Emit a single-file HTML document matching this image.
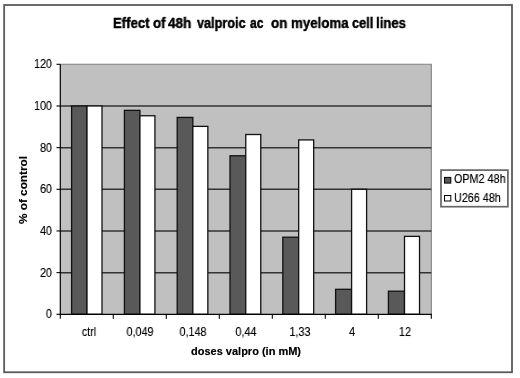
<!DOCTYPE html>
<html><head><meta charset="utf-8"><style>
html,body{margin:0;padding:0;background:#fff;width:520px;height:378px;overflow:hidden}
body{position:relative;font-family:"Liberation Sans", sans-serif;color:#000;-webkit-font-smoothing:antialiased}
.r{position:absolute}
.t{position:absolute;white-space:pre;line-height:1;will-change:transform;text-shadow:0 0 0.7px rgba(0,0,0,0.45)}
#w{position:absolute;left:0;top:0;width:520px;height:378px;}
</style></head><body><div id="w">
<svg class="r" style="left:0;top:0" width="520" height="378" viewBox="0 0 520 378"><rect x="4.15" y="5" width="507.85" height="367.25" fill="#fff" stroke="#5a5a5a" stroke-width="1.8"/><rect x="60.3" y="64.3" width="371.0" height="250.0" fill="#c0c0c0"/><path d="M60.3 64.3H431.3V314.3" fill="none" stroke="#808080" stroke-width="1.1"/><line x1="60.3" y1="105.97" x2="431.3" y2="105.97" stroke="#333" stroke-width="1.5"/><line x1="60.3" y1="147.63" x2="431.3" y2="147.63" stroke="#333" stroke-width="1.5"/><line x1="60.3" y1="189.30" x2="431.3" y2="189.30" stroke="#333" stroke-width="1.5"/><line x1="60.3" y1="230.97" x2="431.3" y2="230.97" stroke="#333" stroke-width="1.5"/><line x1="60.3" y1="272.63" x2="431.3" y2="272.63" stroke="#333" stroke-width="1.5"/><rect x="71.60" y="105.97" width="15.40" height="208.33" fill="#595959" stroke="#111" stroke-width="1.3"/><rect x="87.00" y="105.97" width="15.00" height="208.33" fill="#fff" stroke="#111" stroke-width="1.3"/><rect x="124.40" y="110.34" width="15.52" height="203.96" fill="#595959" stroke="#111" stroke-width="1.3"/><rect x="139.92" y="115.76" width="15.00" height="198.54" fill="#fff" stroke="#111" stroke-width="1.3"/><rect x="177.20" y="117.43" width="15.64" height="196.88" fill="#595959" stroke="#111" stroke-width="1.3"/><rect x="192.84" y="126.38" width="15.00" height="187.92" fill="#fff" stroke="#111" stroke-width="1.3"/><rect x="230.00" y="155.76" width="15.76" height="158.54" fill="#595959" stroke="#111" stroke-width="1.3"/><rect x="245.76" y="134.51" width="15.00" height="179.79" fill="#fff" stroke="#111" stroke-width="1.3"/><rect x="282.80" y="237.22" width="15.88" height="77.08" fill="#595959" stroke="#111" stroke-width="1.3"/><rect x="298.68" y="139.92" width="15.00" height="174.38" fill="#fff" stroke="#111" stroke-width="1.3"/><rect x="335.60" y="289.30" width="16.00" height="25.00" fill="#595959" stroke="#111" stroke-width="1.3"/><rect x="351.60" y="189.30" width="15.00" height="125.00" fill="#fff" stroke="#111" stroke-width="1.3"/><rect x="388.40" y="291.18" width="16.12" height="23.12" fill="#595959" stroke="#111" stroke-width="1.3"/><rect x="404.52" y="236.38" width="15.00" height="77.92" fill="#fff" stroke="#111" stroke-width="1.3"/><line x1="60.3" y1="64.3" x2="60.3" y2="314.8" stroke="#000" stroke-width="1.2"/><line x1="59.8" y1="314.3" x2="431.8" y2="314.3" stroke="#000" stroke-width="1.2"/><line x1="56.5" y1="64.30" x2="60.3" y2="64.30" stroke="#000" stroke-width="1.1"/><line x1="56.5" y1="105.97" x2="60.3" y2="105.97" stroke="#000" stroke-width="1.1"/><line x1="56.5" y1="147.63" x2="60.3" y2="147.63" stroke="#000" stroke-width="1.1"/><line x1="56.5" y1="189.30" x2="60.3" y2="189.30" stroke="#000" stroke-width="1.1"/><line x1="56.5" y1="230.97" x2="60.3" y2="230.97" stroke="#000" stroke-width="1.1"/><line x1="56.5" y1="272.63" x2="60.3" y2="272.63" stroke="#000" stroke-width="1.1"/><line x1="56.5" y1="314.30" x2="60.3" y2="314.30" stroke="#000" stroke-width="1.1"/><line x1="60.30" y1="314.3" x2="60.30" y2="318.8" stroke="#000" stroke-width="1.1"/><line x1="113.30" y1="314.3" x2="113.30" y2="318.8" stroke="#000" stroke-width="1.1"/><line x1="166.30" y1="314.3" x2="166.30" y2="318.8" stroke="#000" stroke-width="1.1"/><line x1="219.30" y1="314.3" x2="219.30" y2="318.8" stroke="#000" stroke-width="1.1"/><line x1="272.30" y1="314.3" x2="272.30" y2="318.8" stroke="#000" stroke-width="1.1"/><line x1="325.30" y1="314.3" x2="325.30" y2="318.8" stroke="#000" stroke-width="1.1"/><line x1="378.30" y1="314.3" x2="378.30" y2="318.8" stroke="#000" stroke-width="1.1"/><line x1="431.30" y1="314.3" x2="431.30" y2="318.8" stroke="#000" stroke-width="1.1"/></svg>
<div class="t" style="left:-148.00px;width:200px;text-align:right;top:57.84px;font-size:12px;font-weight:normal;transform:scaleX(0.9);transform-origin:100% 50%;">120</div>
<div class="t" style="left:-148.00px;width:200px;text-align:right;top:99.84px;font-size:12px;font-weight:normal;transform:scaleX(0.9);transform-origin:100% 50%;">100</div>
<div class="t" style="left:-148.00px;width:200px;text-align:right;top:141.84px;font-size:12px;font-weight:normal;transform:scaleX(0.9);transform-origin:100% 50%;">80</div>
<div class="t" style="left:-148.00px;width:200px;text-align:right;top:182.84px;font-size:12px;font-weight:normal;transform:scaleX(0.9);transform-origin:100% 50%;">60</div>
<div class="t" style="left:-148.00px;width:200px;text-align:right;top:224.84px;font-size:12px;font-weight:normal;transform:scaleX(0.9);transform-origin:100% 50%;">40</div>
<div class="t" style="left:-148.00px;width:200px;text-align:right;top:266.84px;font-size:12px;font-weight:normal;transform:scaleX(0.9);transform-origin:100% 50%;">20</div>
<div class="t" style="left:-148.00px;width:200px;text-align:right;top:307.84px;font-size:12px;font-weight:normal;transform:scaleX(0.9);transform-origin:100% 50%;">0</div>
<div class="t" style="left:-11.25px;width:200px;text-align:center;top:325.84px;font-size:12px;font-weight:normal;transform:scaleX(0.9);transform-origin:50% 50%;">ctrl</div>
<div class="t" style="left:39.50px;width:200px;text-align:center;top:325.84px;font-size:12px;font-weight:normal;transform:scaleX(0.9);transform-origin:50% 50%;">0,049</div>
<div class="t" style="left:92.80px;width:200px;text-align:center;top:325.84px;font-size:12px;font-weight:normal;transform:scaleX(0.9);transform-origin:50% 50%;">0,148</div>
<div class="t" style="left:146.20px;width:200px;text-align:center;top:325.84px;font-size:12px;font-weight:normal;transform:scaleX(0.9);transform-origin:50% 50%;">0,44</div>
<div class="t" style="left:200.10px;width:200px;text-align:center;top:325.84px;font-size:12px;font-weight:normal;transform:scaleX(0.9);transform-origin:50% 50%;">1,33</div>
<div class="t" style="left:252.30px;width:200px;text-align:center;top:325.84px;font-size:12px;font-weight:normal;transform:scaleX(0.9);transform-origin:50% 50%;">4</div>
<div class="t" style="left:305.20px;width:200px;text-align:center;top:325.84px;font-size:12px;font-weight:normal;transform:scaleX(0.9);transform-origin:50% 50%;">12</div>
<div class="t" style="left:112.97px;top:15.65px;font-size:14px;font-weight:bold;transform:scaleX(0.938);transform-origin:0 50%;-webkit-text-stroke:0.3px #000">Effect</div>
<div class="t" style="left:153.08px;top:15.65px;font-size:14px;font-weight:bold;transform:scaleX(0.95);transform-origin:0 50%;-webkit-text-stroke:0.3px #000">of</div>
<div class="t" style="left:167.80px;top:15.65px;font-size:14px;font-weight:bold;transform:scaleX(0.968);transform-origin:0 50%;-webkit-text-stroke:0.3px #000">48h</div>
<div class="t" style="left:196.55px;top:15.65px;font-size:14px;font-weight:bold;transform:scaleX(0.904);transform-origin:0 50%;-webkit-text-stroke:0.3px #000">valproic</div>
<div class="t" style="left:249.94px;top:15.65px;font-size:14px;font-weight:bold;transform:scaleX(0.87);transform-origin:0 50%;-webkit-text-stroke:0.3px #000">ac</div>
<div class="t" style="left:270.92px;top:15.65px;font-size:14px;font-weight:bold;transform:scaleX(0.96);transform-origin:0 50%;-webkit-text-stroke:0.3px #000">on</div>
<div class="t" style="left:290.58px;top:15.65px;font-size:14px;font-weight:bold;transform:scaleX(0.948);transform-origin:0 50%;-webkit-text-stroke:0.3px #000">myeloma</div>
<div class="t" style="left:352.30px;top:15.65px;font-size:14px;font-weight:bold;transform:scaleX(0.912);transform-origin:0 50%;-webkit-text-stroke:0.3px #000">cell</div>
<div class="t" style="left:376.38px;top:15.65px;font-size:14px;font-weight:bold;transform:scaleX(0.942);transform-origin:0 50%;-webkit-text-stroke:0.3px #000">lines</div>
<div class="t" style="left:190.90px;top:346.29px;font-size:11px;font-weight:bold;">doses valpro (in mM)</div>
<div class="t" style="left:-27.0px;top:183.7px;width:100px;height:12px;line-height:12px;text-align:center;font-size:11.8px;font-weight:bold;transform:rotate(-90deg);transform-origin:50% 50%">% of control</div>
<svg class="r" style="left:0;top:0" width="520" height="378" viewBox="0 0 520 378"><rect x="441" y="170.1" width="66.9" height="36.6" fill="#fff" stroke="#666" stroke-width="1.7"/><rect x="444.5" y="177.4" width="6.3" height="5.7" fill="#595959" stroke="#000" stroke-width="1"/><rect x="444.5" y="195.5" width="6.3" height="5.5" fill="#fff" stroke="#000" stroke-width="1"/></svg>
<div class="t" style="left:453.60px;top:172.84px;font-size:12px;font-weight:normal;transform:scaleX(0.9);transform-origin:0 50%;">OPM2 48h</div>
<div class="t" style="left:453.60px;top:191.84px;font-size:12px;font-weight:normal;transform:scaleX(0.9);transform-origin:0 50%;">U266 48h</div>
</div></body></html>
